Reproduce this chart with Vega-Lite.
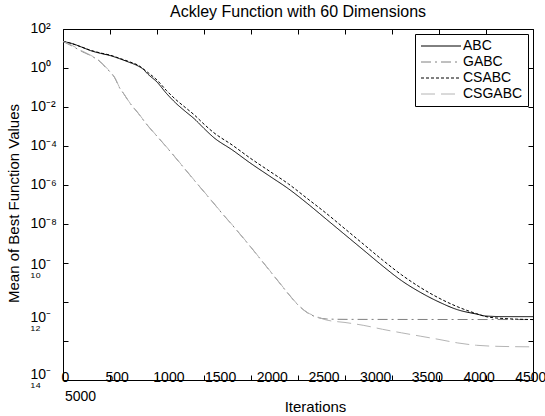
{
  "$schema": "https://vega.github.io/schema/vega-lite/v6.json",
  "width": 470,
  "height": 351,
  "autosize": {"type": "none"},
  "padding": {"left": 63, "top": 29, "right": 12, "bottom": 36},
  "background": "white",
  "title": {"text": "Ackley Function with 60 Dimensions", "font": "Liberation Sans", "fontSize": 16, "fontWeight": "normal", "color": "black", "anchor": "middle", "offset": 1},
  "config": {
    "view": {"stroke": null},
    "font": "Liberation Sans",
    "axis": {"domainColor": "black", "tickColor": "black", "labelColor": "black", "titleColor": "black", "grid": false, "labelFont": "Liberation Sans", "titleFont": "Liberation Sans", "labelFontSize": 14, "titleFontSize": 15, "titleFontWeight": "normal", "tickSize": -5, "labelOverlap": false, "labelFlush": false, "labelBound": false}
  },
  "data": {"values": [
    {"alg": "ABC", "it": 0, "v": 22.9},
    {"alg": "ABC", "it": 100, "v": 17.78},
    {"alg": "ABC", "it": 200, "v": 11.75},
    {"alg": "ABC", "it": 300, "v": 7.586},
    {"alg": "ABC", "it": 400, "v": 5.623},
    {"alg": "ABC", "it": 500, "v": 4.365},
    {"alg": "ABC", "it": 600, "v": 3.02},
    {"alg": "ABC", "it": 700, "v": 1.995},
    {"alg": "ABC", "it": 800, "v": 1.259},
    {"alg": "ABC", "it": 850, "v": 0.8913},
    {"alg": "ABC", "it": 900, "v": 0.5012},
    {"alg": "ABC", "it": 1000, "v": 0.1905},
    {"alg": "ABC", "it": 1100, "v": 0.05012},
    {"alg": "ABC", "it": 1200, "v": 0.01585},
    {"alg": "ABC", "it": 1300, "v": 6.026e-3},
    {"alg": "ABC", "it": 1400, "v": 2.399e-3},
    {"alg": "ABC", "it": 1500, "v": 7.943e-4},
    {"alg": "ABC", "it": 1600, "v": 2.818e-4},
    {"alg": "ABC", "it": 1800, "v": 6.31e-5},
    {"alg": "ABC", "it": 2000, "v": 1.259e-5},
    {"alg": "ABC", "it": 2200, "v": 2.818e-6},
    {"alg": "ABC", "it": 2400, "v": 6.31e-7},
    {"alg": "ABC", "it": 2600, "v": 1.122e-7},
    {"alg": "ABC", "it": 2800, "v": 1.778e-8},
    {"alg": "ABC", "it": 3000, "v": 2.818e-9},
    {"alg": "ABC", "it": 3200, "v": 4.467e-10},
    {"alg": "ABC", "it": 3400, "v": 7.079e-11},
    {"alg": "ABC", "it": 3600, "v": 1.259e-11},
    {"alg": "ABC", "it": 3800, "v": 3.162e-12},
    {"alg": "ABC", "it": 4000, "v": 1.0e-12},
    {"alg": "ABC", "it": 4200, "v": 3.981e-13},
    {"alg": "ABC", "it": 4400, "v": 2.399e-13},
    {"alg": "ABC", "it": 4500, "v": 1.905e-13},
    {"alg": "ABC", "it": 4700, "v": 1.778e-13},
    {"alg": "ABC", "it": 5000, "v": 1.778e-13},

    {"alg": "GABC", "it": 0, "v": 22.9},
    {"alg": "GABC", "it": 100, "v": 13.18},
    {"alg": "GABC", "it": 200, "v": 7.079},
    {"alg": "GABC", "it": 300, "v": 4.169},
    {"alg": "GABC", "it": 400, "v": 1.995},
    {"alg": "GABC", "it": 450, "v": 1.122},
    {"alg": "GABC", "it": 500, "v": 0.631},
    {"alg": "GABC", "it": 550, "v": 0.3162},
    {"alg": "GABC", "it": 600, "v": 0.1},
    {"alg": "GABC", "it": 650, "v": 0.04467},
    {"alg": "GABC", "it": 700, "v": 0.01905},
    {"alg": "GABC", "it": 800, "v": 4.786e-3},
    {"alg": "GABC", "it": 900, "v": 1.122e-3},
    {"alg": "GABC", "it": 1000, "v": 3.162e-4},
    {"alg": "GABC", "it": 1100, "v": 8.913e-5},
    {"alg": "GABC", "it": 1200, "v": 2.399e-5},
    {"alg": "GABC", "it": 1300, "v": 6.31e-6},
    {"alg": "GABC", "it": 1400, "v": 1.66e-6},
    {"alg": "GABC", "it": 1500, "v": 4.467e-7},
    {"alg": "GABC", "it": 1600, "v": 1.202e-7},
    {"alg": "GABC", "it": 1700, "v": 3.162e-8},
    {"alg": "GABC", "it": 1800, "v": 8.913e-9},
    {"alg": "GABC", "it": 1900, "v": 2.399e-9},
    {"alg": "GABC", "it": 2000, "v": 6.31e-10},
    {"alg": "GABC", "it": 2100, "v": 1.585e-10},
    {"alg": "GABC", "it": 2200, "v": 3.981e-11},
    {"alg": "GABC", "it": 2300, "v": 1.0e-11},
    {"alg": "GABC", "it": 2400, "v": 2.512e-12},
    {"alg": "GABC", "it": 2500, "v": 7.079e-13},
    {"alg": "GABC", "it": 2600, "v": 2.818e-13},
    {"alg": "GABC", "it": 2700, "v": 1.66e-13},
    {"alg": "GABC", "it": 2800, "v": 1.349e-13},
    {"alg": "GABC", "it": 3000, "v": 1.288e-13},
    {"alg": "GABC", "it": 5000, "v": 1.259e-13},

    {"alg": "CSABC", "it": 0, "v": 22.9},
    {"alg": "CSABC", "it": 100, "v": 17.38},
    {"alg": "CSABC", "it": 200, "v": 11.75},
    {"alg": "CSABC", "it": 300, "v": 7.943},
    {"alg": "CSABC", "it": 400, "v": 5.888},
    {"alg": "CSABC", "it": 500, "v": 4.571},
    {"alg": "CSABC", "it": 600, "v": 3.162},
    {"alg": "CSABC", "it": 700, "v": 2.138},
    {"alg": "CSABC", "it": 800, "v": 1.38},
    {"alg": "CSABC", "it": 900, "v": 0.6026},
    {"alg": "CSABC", "it": 1000, "v": 0.2399},
    {"alg": "CSABC", "it": 1100, "v": 0.07079},
    {"alg": "CSABC", "it": 1200, "v": 0.02399},
    {"alg": "CSABC", "it": 1300, "v": 9.55e-3},
    {"alg": "CSABC", "it": 1400, "v": 3.802e-3},
    {"alg": "CSABC", "it": 1500, "v": 1.318e-3},
    {"alg": "CSABC", "it": 1600, "v": 5.012e-4},
    {"alg": "CSABC", "it": 1800, "v": 1.122e-4},
    {"alg": "CSABC", "it": 2000, "v": 2.239e-5},
    {"alg": "CSABC", "it": 2200, "v": 5.012e-6},
    {"alg": "CSABC", "it": 2400, "v": 1.122e-6},
    {"alg": "CSABC", "it": 2600, "v": 2.0e-7},
    {"alg": "CSABC", "it": 2800, "v": 3.548e-8},
    {"alg": "CSABC", "it": 3000, "v": 5.623e-9},
    {"alg": "CSABC", "it": 3200, "v": 8.913e-10},
    {"alg": "CSABC", "it": 3400, "v": 1.413e-10},
    {"alg": "CSABC", "it": 3600, "v": 2.512e-11},
    {"alg": "CSABC", "it": 3800, "v": 5.623e-12},
    {"alg": "CSABC", "it": 4000, "v": 1.585e-12},
    {"alg": "CSABC", "it": 4200, "v": 5.623e-13},
    {"alg": "CSABC", "it": 4400, "v": 2.512e-13},
    {"alg": "CSABC", "it": 4500, "v": 1.778e-13},
    {"alg": "CSABC", "it": 4700, "v": 1.413e-13},
    {"alg": "CSABC", "it": 5000, "v": 1.259e-13},

    {"alg": "CSGABC", "it": 0, "v": 22.9},
    {"alg": "CSGABC", "it": 100, "v": 14.1},
    {"alg": "CSGABC", "it": 200, "v": 7.586},
    {"alg": "CSGABC", "it": 300, "v": 4.365},
    {"alg": "CSGABC", "it": 400, "v": 2.089},
    {"alg": "CSGABC", "it": 450, "v": 1.175},
    {"alg": "CSGABC", "it": 500, "v": 0.661},
    {"alg": "CSGABC", "it": 550, "v": 0.3311},
    {"alg": "CSGABC", "it": 600, "v": 0.1047},
    {"alg": "CSGABC", "it": 650, "v": 0.04571},
    {"alg": "CSGABC", "it": 700, "v": 0.0195},
    {"alg": "CSGABC", "it": 800, "v": 4.898e-3},
    {"alg": "CSGABC", "it": 900, "v": 1.148e-3},
    {"alg": "CSGABC", "it": 1000, "v": 3.236e-4},
    {"alg": "CSGABC", "it": 1100, "v": 9.12e-5},
    {"alg": "CSGABC", "it": 1200, "v": 2.455e-5},
    {"alg": "CSGABC", "it": 1300, "v": 6.457e-6},
    {"alg": "CSGABC", "it": 1400, "v": 1.698e-6},
    {"alg": "CSGABC", "it": 1500, "v": 4.571e-7},
    {"alg": "CSGABC", "it": 1600, "v": 1.23e-7},
    {"alg": "CSGABC", "it": 1700, "v": 3.236e-8},
    {"alg": "CSGABC", "it": 1800, "v": 9.12e-9},
    {"alg": "CSGABC", "it": 1900, "v": 2.455e-9},
    {"alg": "CSGABC", "it": 2000, "v": 6.457e-10},
    {"alg": "CSGABC", "it": 2100, "v": 1.622e-10},
    {"alg": "CSGABC", "it": 2200, "v": 4.074e-11},
    {"alg": "CSGABC", "it": 2300, "v": 1.023e-11},
    {"alg": "CSGABC", "it": 2400, "v": 2.57e-12},
    {"alg": "CSGABC", "it": 2500, "v": 7.244e-13},
    {"alg": "CSGABC", "it": 2600, "v": 2.884e-13},
    {"alg": "CSGABC", "it": 2700, "v": 1.778e-13},
    {"alg": "CSGABC", "it": 2800, "v": 1.202e-13},
    {"alg": "CSGABC", "it": 3000, "v": 8.913e-14},
    {"alg": "CSGABC", "it": 3200, "v": 6.31e-14},
    {"alg": "CSGABC", "it": 3400, "v": 3.981e-14},
    {"alg": "CSGABC", "it": 3600, "v": 2.63e-14},
    {"alg": "CSGABC", "it": 3800, "v": 1.778e-14},
    {"alg": "CSGABC", "it": 4000, "v": 1.202e-14},
    {"alg": "CSGABC", "it": 4200, "v": 7.943e-15},
    {"alg": "CSGABC", "it": 4400, "v": 6.026e-15},
    {"alg": "CSGABC", "it": 4600, "v": 5.37e-15},
    {"alg": "CSGABC", "it": 5000, "v": 5.012e-15}
  ]},
  "layer": [
    {
      "mark": {"type": "line", "strokeWidth": 1, "interpolate": "monotone"},
      "encoding": {
        "x": {"field": "it", "type": "quantitative", "scale": {"domain": [0, 5000], "nice": false},
          "axis": {"orient": "bottom", "values": [0, 500, 1000, 1500, 2000, 2500, 3000, 3500, 4000, 4500, 5000], "format": "d", "title": "Iterations", "labelBaseline": "middle", "titleX": 252, "titleY": 26, "titleBaseline": "middle",
            "labelPadding": {"condition": {"test": "datum.value == 5000", "value": 21}, "value": 2},
            "labelOffset": {"condition": [
              {"test": "datum.value == 500", "value": 6.7},
              {"test": "datum.value == 1000", "value": 11.4},
              {"test": "datum.value == 1500", "value": 16.1},
              {"test": "datum.value == 2000", "value": 20.8},
              {"test": "datum.value == 2500", "value": 25.5},
              {"test": "datum.value == 3000", "value": 30.2},
              {"test": "datum.value == 3500", "value": 34.9},
              {"test": "datum.value == 4000", "value": 39.6},
              {"test": "datum.value == 4500", "value": 44.3},
              {"test": "datum.value == 5000", "value": -453}
            ], "value": 2}}},
        "y": {"field": "v", "type": "quantitative", "scale": {"type": "log", "domain": [1e-16, 100], "nice": false},
          "axis": {"orient": "left", "values": [100, 1, 0.01, 0.0001, 1e-6, 1e-8, 1e-10, 1e-12, 1e-14, 1e-16], "title": "Mean of Best Function Values", "labelAlign": "left", "labelBaseline": "middle", "labelPadding": 38, "labelLineHeight": 8,
            "labelExpr": "round(log(datum.value)/LN10) == 2 ? '10²' : round(log(datum.value)/LN10) == 0 ? '10⁰' : round(log(datum.value)/LN10) == -2 ? '10⁻²' : round(log(datum.value)/LN10) == -4 ? '10⁻⁴' : round(log(datum.value)/LN10) == -6 ? '10⁻⁶' : round(log(datum.value)/LN10) == -8 ? '10⁻⁸' : round(log(datum.value)/LN10) == -10 ? ['10⁻', '₁₀'] : round(log(datum.value)/LN10) == -12 ? ['10⁻', '₁₂'] : round(log(datum.value)/LN10) == -14 ? ['10⁻', '₁₄'] : ''",
            "labelOffset": {"condition": [
              {"test": "round(log(datum.value)/LN10) == -10", "value": 1},
              {"test": "round(log(datum.value)/LN10) == -12", "value": 15},
              {"test": "round(log(datum.value)/LN10) == -14", "value": 33}
            ], "value": -1},
            "titleX": -50, "titleY": 174, "titleBaseline": "middle"}},
        "color": {"field": "alg", "type": "nominal", "scale": {"domain": ["ABC", "GABC", "CSABC", "CSGABC"], "range": ["#000000", "#808080", "#000000", "#b4b4b4"]},
          "legend": {"title": null, "orient": "none", "legendX": 352, "legendY": 5, "symbolType": "M-1,0H5.667", "symbolSize": 144, "symbolOffset": 0, "symbolStrokeWidth": 1, "labelFont": "Liberation Sans", "labelFontSize": 14, "labelColor": "black", "labelOffset": 29, "strokeColor": "black", "fillColor": "white", "padding": 5, "rowPadding": 2, "labelLimit": 200}},
        "strokeDash": {"field": "alg", "type": "nominal", "scale": {"domain": ["ABC", "GABC", "CSABC", "CSGABC"], "range": [[1, 0], [10, 4, 2, 4], [3, 2], [14, 6]]},
          "legend": {"title": null, "orient": "none", "legendX": 352, "legendY": 5, "symbolType": "M-1,0H5.667", "symbolSize": 144, "symbolOffset": 0, "symbolStrokeWidth": 1, "labelFont": "Liberation Sans", "labelFontSize": 14, "labelColor": "black", "labelOffset": 29, "strokeColor": "black", "fillColor": "white", "padding": 5, "rowPadding": 2, "labelLimit": 200}}
      }
    },
    {
      "mark": {"type": "point", "opacity": 0},
      "encoding": {
        "x": {"field": "it", "type": "quantitative", "scale": {"domain": [0, 5000], "nice": false},
          "axis": {"orient": "top", "values": [0, 500, 1000, 1500, 2000, 2500, 3000, 3500, 4000, 4500, 5000], "labels": false, "title": null}},
        "y": {"field": "v", "type": "quantitative", "scale": {"type": "log", "domain": [1e-16, 100], "nice": false},
          "axis": {"orient": "right", "values": [100, 1, 0.01, 0.0001, 1e-6, 1e-8, 1e-10, 1e-12, 1e-14, 1e-16], "labels": false, "title": null}}
      }
    }
  ],
  "resolve": {"axis": {"x": "independent", "y": "independent"}}
}
